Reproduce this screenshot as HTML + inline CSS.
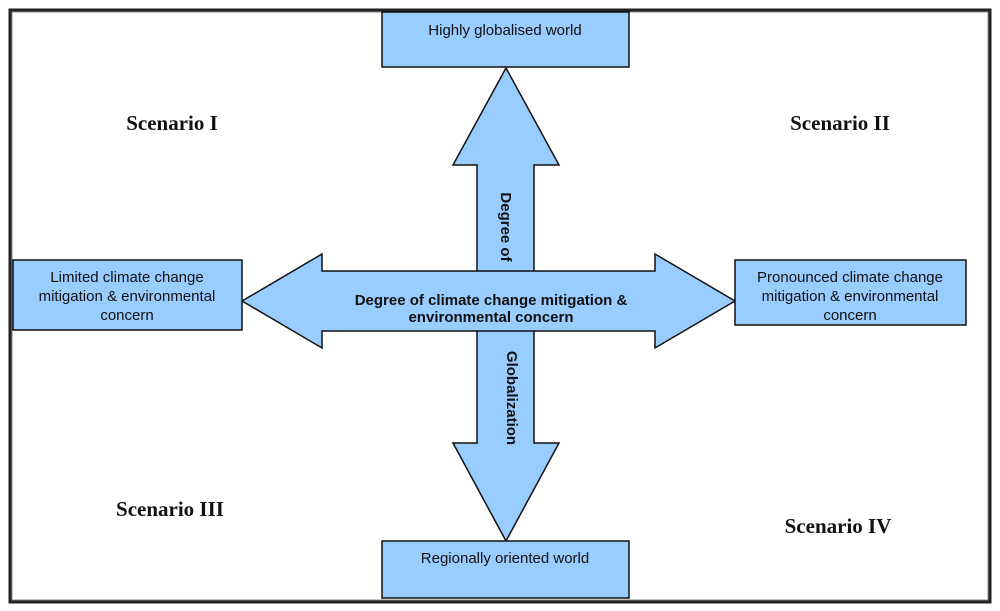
<!DOCTYPE html>
<html><head><style>
body{margin:0;background:#fff;width:1000px;height:611px;overflow:hidden}
svg{display:block}
.b{font-family:"Liberation Sans",sans-serif;font-size:15px;fill:#111}
.s{font-family:"Liberation Serif",serif;font-size:21px;font-weight:bold;fill:#111}
</style></head><body>
<svg width="1000" height="611" viewBox="0 0 1000 611">
<rect x="10" y="10" width="980" height="592" fill="#fff" stroke="#222" stroke-width="3"/>
<rect x="12" y="12" width="976" height="588" fill="none" stroke="#888" stroke-width="1"/>
<!-- vertical arrow -->
<polygon points="506,68 559,165 534,165 534,443 559,443 506,541 453,443 477,443 477,165 453,165" fill="#99ccff" stroke="#111" stroke-width="1.5"/>
<!-- horizontal arrow -->
<polygon points="242,301 322,254 322,271 655,271 655,254 735,301 655,348 655,331 322,331 322,348" fill="#99ccff" stroke="#111" stroke-width="1.5"/>
<!-- boxes -->
<rect x="382" y="12" width="247" height="55" fill="#99ccff" stroke="#111" stroke-width="1.5"/>
<rect x="13" y="260" width="229" height="70" fill="#99ccff" stroke="#111" stroke-width="1.5"/>
<rect x="735" y="260" width="231" height="65" fill="#99ccff" stroke="#111" stroke-width="1.5"/>
<rect x="382" y="541" width="247" height="57" fill="#99ccff" stroke="#111" stroke-width="1.5"/>
<text class="b" x="505" y="35" text-anchor="middle">Highly globalised world</text>
<text class="b" x="127" y="282" text-anchor="middle">Limited climate change</text>
<text class="b" x="127" y="301" text-anchor="middle">mitigation &amp; environmental</text>
<text class="b" x="127" y="320" text-anchor="middle">concern</text>
<text class="b" x="850" y="282" text-anchor="middle">Pronounced climate change</text>
<text class="b" x="850" y="301" text-anchor="middle">mitigation &amp; environmental</text>
<text class="b" x="850" y="320" text-anchor="middle">concern</text>
<text class="b" x="505" y="563" text-anchor="middle">Regionally oriented world</text>
<text class="b" x="491" y="305" text-anchor="middle" font-weight="bold" font-size="14">Degree of climate change mitigation &amp;</text>
<text class="b" x="491" y="322" text-anchor="middle" font-weight="bold" font-size="14">environmental concern</text>
<text class="b" font-weight="bold" font-size="14" transform="translate(501,227) rotate(90)" text-anchor="middle">Degree of</text>
<text class="b" font-weight="bold" font-size="14" transform="translate(507,398) rotate(90)" text-anchor="middle">Globalization</text>
<text class="s" x="172" y="130" text-anchor="middle">Scenario I</text>
<text class="s" x="840" y="130" text-anchor="middle">Scenario II</text>
<text class="s" x="170" y="516" text-anchor="middle">Scenario III</text>
<text class="s" x="838" y="533" text-anchor="middle">Scenario IV</text>
</svg>
</body></html>
